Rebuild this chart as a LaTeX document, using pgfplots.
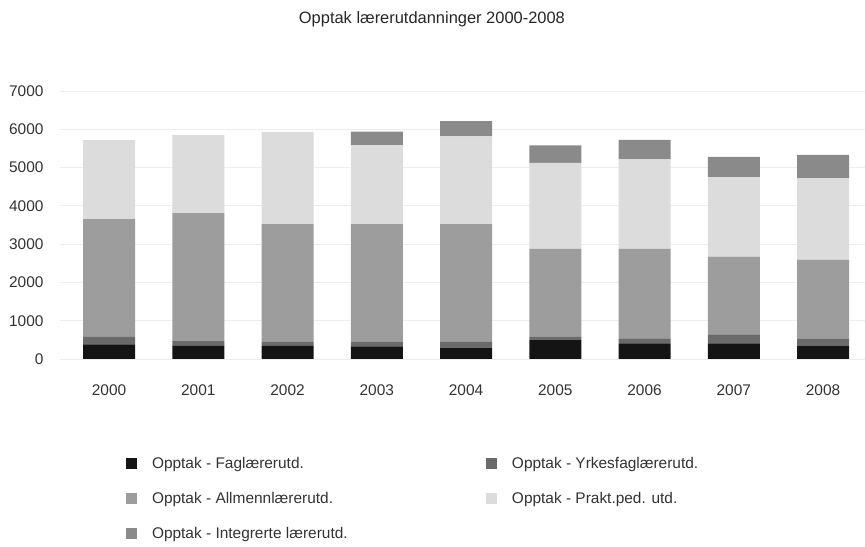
\documentclass[border=0pt]{standalone}
\usepackage{pgfplots}
\pgfplotsset{compat=1.18}
\usepackage{fontspec}
\setmainfont{Liberation Sans}
\definecolor{cFag}{HTML}{141414}
\definecolor{cYrk}{HTML}{6A6A6A}
\definecolor{cAll}{HTML}{9D9D9D}
\definecolor{cPrk}{HTML}{DCDCDC}
\definecolor{cInt}{HTML}{8A8A8A}
\definecolor{cTxt}{HTML}{333333}
\newcommand{\legbox}[1]{\makebox[332bp][l]{#1}}
\begin{document}
\begin{tikzpicture}
\useasboundingbox (0,0) rectangle (865bp,547bp);
\begin{axis}[
  at={(60bp,188bp)}, anchor=south west,
  scale only axis, width=805bp, height=268bp,
  ybar stacked, bar width=52bp,
  xmin=-0.55, xmax=8.47, ymin=0, ymax=7000,
  xtick=data,
  xticklabels={2000,2001,2002,2003,2004,2005,2006,2007,2008},
  ytick={0,1000,...,7000},
  /pgf/number format/assume math mode=true,
  /pgf/number format/1000 sep={},
  font=\fontsize{15.5}{18}\selectfont,
  tick label style={text=cTxt},
  yticklabel style={xshift=-13bp},
  xticklabel style={yshift=-22bp},
  axis line style={draw=none},
  major tick style={draw=none},
  ymajorgrids, major grid style={draw=black!7, line width=0.8bp},
  title={Opptak lærerutdanninger 2000-2008},
  title style={at={(0.462,1.246)}, anchor=center, text=black!85, font=\fontsize{16.5}{19}\selectfont},
  legend columns=2,
  legend image code/.code={\fill[#1,draw=none] (0bp,-5.5bp) rectangle (11bp,5.5bp);},
  legend style={draw=none, fill=none, inner sep=0pt, outer sep=0pt,
    at={(0.082,-0.36)}, anchor=north west, row sep=18bp,
    text=cTxt,
    /tikz/every odd column/.append style={column sep=13bp}},
  legend cell align=left,
]
\addplot[fill=cFag, draw=none] coordinates {(0,382) (1,345) (2,345) (3,330) (4,294) (5,494) (6,408) (7,408) (8,338)};
\addlegendentry{\legbox{Opptak - Faglærerutd.}}
\addplot[fill=cYrk, draw=none] coordinates {(0,197) (1,123) (2,104) (3,119) (4,155) (5,85) (6,130) (7,234) (8,189)};
\addlegendentry{\legbox{Opptak - Yrkesfaglærerutd.}}
\addplot[fill=cAll, draw=none] coordinates {(0,3076) (1,3342) (2,3076) (3,3076) (4,3076) (5,2296) (6,2337) (7,2033) (8,2070)};
\addlegendentry{\legbox{Opptak - Allmennlærerutd.}}
\addplot[fill=cPrk, draw=none] coordinates {(0,2059) (1,2042) (2,2405) (3,2052) (4,2293) (5,2250) (6,2338) (7,2078) (8,2122)};
\addlegendentry{\legbox{Opptak - Prakt.ped. utd.}}
\addplot[fill=cInt, draw=none] coordinates {(0,0) (1,0) (2,0) (3,363) (4,398) (5,452) (6,509) (7,528) (8,613)};
\addlegendentry{\legbox{Opptak - Integrerte lærerutd.}}
\end{axis}
\end{tikzpicture}
\end{document}
